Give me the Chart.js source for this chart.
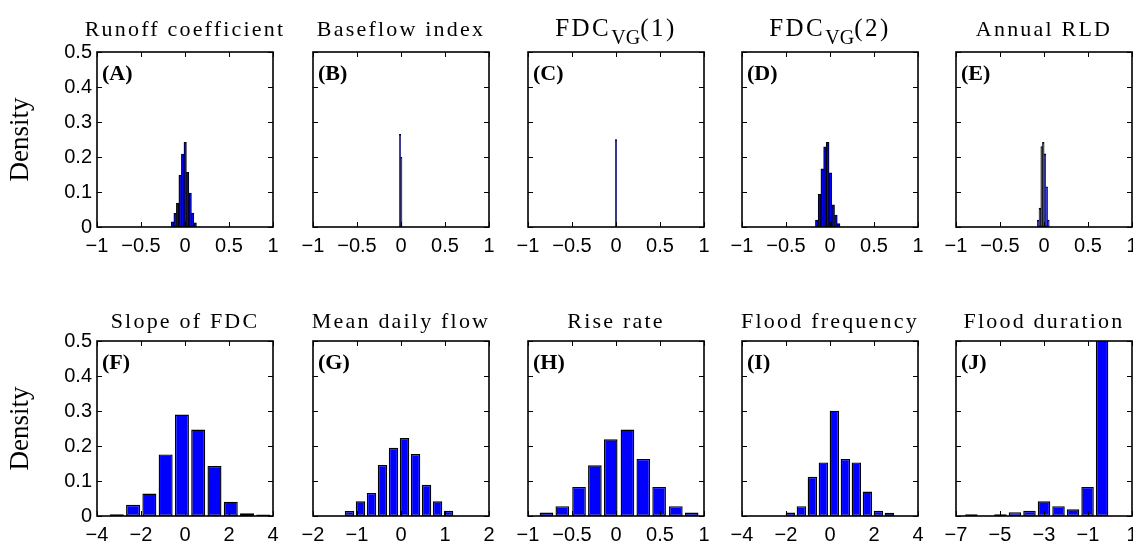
<!DOCTYPE html>
<html>
<head>
<meta charset="utf-8">
<script src="https://cdn.jsdelivr.net/npm/chart.js@4.4.1/dist/chart.umd.min.js"></script>
<style>
  html, body { margin: 0; padding: 0; background: #fff; overflow: hidden; }
  #wrap { position: relative; width: 1133px; height: 543px; }
  #wrap canvas { position: absolute; }
</style>
</head>
<body>
<div id="wrap"></div>
<script>
// panel titles and tags
const titles = ['Runoff coefficient', 'Baseflow index', 'FDC_{VG}(1)', 'FDC_{VG}(2)', 'Annual RLD',
                'Slope of FDC', 'Mean daily flow', 'Rise rate', 'Flood frequency', 'Flood duration'];
const tags = ['(A)', '(B)', '(C)', '(D)', '(E)', '(F)', '(G)', '(H)', '(I)', '(J)'];
const yLabel = 'Density';
const densityTicks = [0, 0.1, 0.2, 0.3, 0.4, 0.5];

// bin centres and densities
const binsA = [-0.141, -0.113, -0.084, -0.056, -0.027, 0.002, 0.03, 0.059, 0.087, 0.116];
const densA = [0.015, 0.039, 0.068, 0.148, 0.208, 0.242, 0.156, 0.097, 0.04, 0.012];
const binsB = [-0.011, 0.004];
const densB = [0.265, 0.2];
const binsC = [0];
const densC = [0.25];
const binsD = [-0.15, -0.119, -0.088, -0.057, -0.026, 0.005, 0.036, 0.067, 0.098];
const densD = [0.02, 0.093, 0.166, 0.229, 0.242, 0.155, 0.063, 0.034, 0.01];
const binsE = [-0.066, -0.047, -0.027, -0.008, 0.011, 0.031, 0.05];
const densE = [0.02, 0.054, 0.23, 0.242, 0.209, 0.115, 0.02];
const binsF = [-3.1, -2.36, -1.62, -0.88, -0.14, 0.6, 1.34, 2.08, 2.82, 3.56];
const densF = [0.005, 0.032, 0.064, 0.176, 0.29, 0.247, 0.143, 0.041, 0.008, 0.004];
const binsG = [-1.17, -0.92, -0.67, -0.42, -0.17, 0.08, 0.33, 0.58, 0.83, 1.08];
const densG = [0.014, 0.042, 0.066, 0.146, 0.195, 0.223, 0.177, 0.089, 0.042, 0.015];
const binsH = [-0.79, -0.61, -0.42, -0.24, -0.06, 0.13, 0.31, 0.49, 0.68, 0.86];
const densH = [0.01, 0.028, 0.083, 0.145, 0.219, 0.247, 0.163, 0.083, 0.028, 0.01];
const binsI = [-1.8, -1.3, -0.8, -0.3, 0.2, 0.7, 1.2, 1.7, 2.2, 2.7];
const densI = [0.01, 0.028, 0.112, 0.153, 0.301, 0.163, 0.153, 0.07, 0.015, 0.009];
const binsJ = [-6.3, -5.64, -4.98, -4.32, -3.66, -3.0, -2.34, -1.68, -1.02, -0.36];
const densJ = [0.005, 0.001, 0.005, 0.011, 0.015, 0.042, 0.028, 0.019, 0.083, 0.79];

// x tick labels per panel
const ticksUnit = [-1, -0.5, 0, 0.5, 1];
const ticksF = [-4, -2, 0, 2, 4];
const ticksG = [-2, -1, 0, 1, 2];
const ticksI = [-4, -2, 0, 2, 4];
const ticksJ = [-7, -5, -3, -1, 1];

const bins = [binsA, binsB, binsC, binsD, binsE, binsF, binsG, binsH, binsI, binsJ];
const dens = [densA, densB, densC, densD, densE, densF, densG, densH, densI, densJ];
const xTicks = [ticksUnit, ticksUnit, ticksUnit, ticksUnit, ticksUnit, ticksF, ticksG, ticksUnit, ticksI, ticksJ];

// layout
const plotLeft = [97, 313, 528, 742, 956];
const plotTop = [52, 341];
const PLOT_W = 176, PLOT_H = 175, TOP_SPACE = 52, X_AXIS_H = 26, PAD_R = 20;
const titleGap = [16.5, 13.5];

const fmt = v => (v < 0 ? '\u2212' + Math.abs(v) : String(v));

function parseTitle(t) {
  const parts = [];
  const re = /_\{(.*?)\}/g;
  let last = 0, m;
  while ((m = re.exec(t))) {
    if (m.index > last) parts.push({ text: t.slice(last, m.index), sub: false });
    parts.push({ text: m[1], sub: true });
    last = re.lastIndex;
  }
  if (last < t.length) parts.push({ text: t.slice(last), sub: false });
  return parts;
}

const framePlugin = {
  id: 'frame',
  afterDraw(chart) {
    const o = chart.options.plugins.frame;
    const ctx = chart.ctx;
    const { left, top, right, bottom } = chart.chartArea;
    const xs = chart.scales.x, ys = chart.scales.y;
    ctx.save();
    ctx.strokeStyle = '#000';
    ctx.lineWidth = 1;
    ctx.beginPath();
    o.xTicks.forEach(v => {
      const px = Math.round(xs.getPixelForValue(v)) + 0.5;
      ctx.moveTo(px, bottom); ctx.lineTo(px, bottom - 5);
      ctx.moveTo(px, top); ctx.lineTo(px, top + 5);
    });
    densityTicks.forEach(v => {
      const py = Math.round(ys.getPixelForValue(v)) + 0.5;
      ctx.moveTo(left, py); ctx.lineTo(left + 5, py);
      ctx.moveTo(right, py); ctx.lineTo(right - 5, py);
    });
    ctx.stroke();
    ctx.lineWidth = 1.6;
    ctx.strokeRect(left, top, right - left, bottom - top);

    // panel tag
    ctx.fillStyle = '#000';
    ctx.font = 'bold 22px "Liberation Serif"';
    ctx.textBaseline = 'alphabetic';
    ctx.textAlign = 'left';
    ctx.fillText(o.tag, left + 5, top + 28);

    // title with optional subscript
    const parts = parseTitle(o.title);
    const math = parts.some(p => p.sub);
    const styleOf = p => p.sub ? { font: '20px "Liberation Serif"', sp: '0px', dy: 8 }
      : math ? { font: '25px "Liberation Serif"', sp: '2.5px', dy: 0 }
      : { font: '22px "Liberation Serif"', sp: '2.2px', dy: 0 };
    let total = 0;
    const widths = parts.map(p => {
      const s = styleOf(p);
      ctx.font = s.font; ctx.letterSpacing = s.sp;
      const w = ctx.measureText(p.text).width;
      total += w;
      return w;
    });
    let x = (left + right) / 2 - total / 2;
    const base = top - o.gap;
    parts.forEach((p, k) => {
      const s = styleOf(p);
      ctx.font = s.font; ctx.letterSpacing = s.sp;
      ctx.fillText(p.text, x, base + s.dy);
      x += widths[k];
    });
    ctx.restore();
  }
};

const wrap = document.getElementById('wrap');

for (let i = 0; i < 10; i++) {
  const col = i % 5, row = Math.floor(i / 5);
  const padL = col === 0 ? 97 : 20;
  const canvas = document.createElement('canvas');
  canvas.width = padL + PLOT_W + PAD_R;
  canvas.height = TOP_SPACE + PLOT_H + X_AXIS_H;
  canvas.style.left = (plotLeft[col] - padL) + 'px';
  canvas.style.top = (plotTop[row] - TOP_SPACE) + 'px';
  wrap.appendChild(canvas);

  const xt = xTicks[i];
  const narrow = row === 0;
  const ds = {
    data: bins[i].map((x, k) => ({ x: x, y: dens[i][k] })),
    backgroundColor: '#0000ff',
    borderColor: '#000',
    borderWidth: narrow ? 1 : 1.4,
    borderSkipped: false,
    barPercentage: narrow ? 1 : 0.86,
    categoryPercentage: 1
  };
  if (bins[i].length === 1) ds.barThickness = 1.5;

  new Chart(canvas, {
    type: 'bar',
    data: { datasets: [ds] },
    options: {
      responsive: false,
      animation: false,
      devicePixelRatio: 1,
      layout: { padding: { top: TOP_SPACE, right: PAD_R, left: 0, bottom: 0 } },
      plugins: {
        legend: { display: false },
        tooltip: { enabled: false },
        frame: { tag: tags[i], title: titles[i], xTicks: xt, gap: titleGap[row] }
      },
      scales: {
        x: {
          type: 'linear',
          min: xt[0],
          max: xt[xt.length - 1],
          offset: false,
          grid: { display: false, offset: false, drawTicks: false },
          border: { display: false },
          afterBuildTicks: s => { s.ticks = xt.map(v => ({ value: v })); },
          afterFit: s => { s.height = X_AXIS_H; },
          ticks: {
            autoSkip: false, maxRotation: 0, minRotation: 0, padding: 7,
            color: '#000', font: { family: 'Liberation Sans', size: 20 },
            callback: v => fmt(v)
          }
        },
        y: {
          min: 0,
          max: 0.5,
          grid: { display: false, drawTicks: false },
          border: { display: false },
          afterBuildTicks: s => { s.ticks = densityTicks.map(v => ({ value: v })); },
          afterFit: s => { s.width = padL; },
          ticks: {
            display: col === 0, padding: 5,
            color: '#000', font: { family: 'Liberation Sans', size: 20 },
            callback: v => fmt(v)
          },
          title: {
            display: col === 0, text: yLabel, color: '#000',
            font: { family: 'Liberation Serif', size: 27 },
            padding: { top: 5, bottom: 0 }
          }
        }
      }
    },
    plugins: [framePlugin]
  });
}
</script>
</body>
</html>
